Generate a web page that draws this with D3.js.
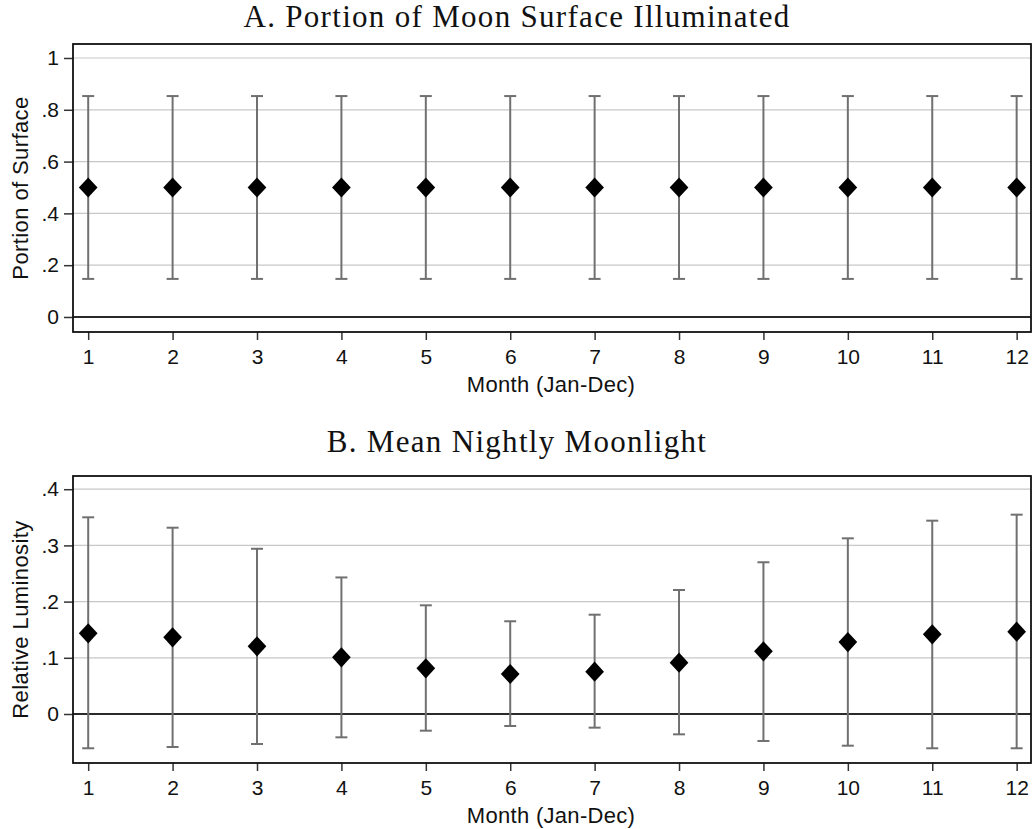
<!DOCTYPE html>
<html><head><meta charset="utf-8">
<script src="https://cdn.jsdelivr.net/npm/d3@7"></script>
<style>body{margin:0;background:#fff}</style>
</head><body><svg id="c" width="1035" height="829"></svg>
<script>
const months = [1,2,3,4,5,6,7,8,9,10,11,12];
const surfMean = [0.5,0.5,0.5,0.5,0.5,0.5,0.5,0.5,0.5,0.5,0.5,0.5];
const surfLo = [0.147,0.147,0.147,0.147,0.147,0.147,0.147,0.147,0.147,0.147,0.147,0.147];
const surfHi = [0.853,0.853,0.853,0.853,0.853,0.853,0.853,0.853,0.853,0.853,0.853,0.853];
const lumMean = [0.1435,0.1364,0.1204,0.1008,0.0813,0.0712,0.0753,0.0913,0.1115,0.128,0.1418,0.1465];
const lumLo = [-0.061,-0.0587,-0.0534,-0.0415,-0.0297,-0.0214,-0.0243,-0.0362,-0.048,-0.0564,-0.061,-0.061];
const lumHi = [0.350,0.3315,0.294,0.243,0.1934,0.165,0.1767,0.2206,0.270,0.3126,0.344,0.3547];
const surfTicks = [0,0.2,0.4,0.6,0.8,1];
const lumTicks = [0,0.1,0.2,0.3,0.4];
const fmt = v => v===0 ? "0" : (v===1 ? "1" : d3.format(".1f")(v).replace(/^0/,""));

const svg = d3.select("#c");
const sans = "Liberation Sans, Arial, sans-serif";
const serif = "Liberation Serif, DejaVu Serif, serif";

function panel(o){
  const x = d3.scaleLinear().domain([0.82,12.17]).range([73,1031]);
  const y = d3.scaleLinear().domain(o.ydom).range([o.bottom,o.top]);
  const g = svg.append("g");
  g.append("text").attr("x",517).attr("y",o.titleY).attr("text-anchor","middle")
    .attr("font-family",serif).attr("font-size",31).attr("letter-spacing",1.3)
    .attr("fill","#111").text(o.title);
  // grid
  g.selectAll(".grid").data(o.ticks.filter(t=>t!==0)).enter().append("line")
    .attr("x1",73).attr("x2",1031).attr("y1",d=>y(d)).attr("y2",d=>y(d))
    .attr("stroke","#c8c8c8").attr("stroke-width",1.2);
  // zero line
  g.append("line").attr("x1",73).attr("x2",1031).attr("y1",y(0)).attr("y2",y(0))
    .attr("stroke","#2a2a2a").attr("stroke-width",1.8);
  // axes
  const ya = d3.axisLeft(y).tickValues(o.ticks).tickFormat(fmt).tickSize(9).tickPadding(5);
  const yg = g.append("g").attr("transform","translate(73,0)").call(ya);
  const xa = d3.axisBottom(x).tickValues(months).tickFormat(d3.format("d")).tickSize(8).tickPadding(9);
  const xg = g.append("g").attr("transform",`translate(0,${o.bottom})`).call(xa);
  [yg,xg].forEach(a=>{
    a.select(".domain").remove();
    a.selectAll(".tick line").attr("stroke","#333").attr("stroke-width",1.5);
    a.selectAll(".tick text").attr("font-family",sans).attr("font-size",21).attr("fill","#111");
  });
  // frame
  g.append("rect").attr("x",73).attr("y",o.top).attr("width",1031-73).attr("height",o.bottom-o.top)
    .attr("fill","none").attr("stroke","#111").attr("stroke-width",1.8);
  // error bars
  const d = months.map((m,i)=>({m,mean:o.mean[i],lo:o.lo[i],hi:o.hi[i]}));
  const eb = g.selectAll(".eb").data(d).enter().append("g");
  eb.append("line").attr("x1",v=>x(v.m)).attr("x2",v=>x(v.m)).attr("y1",v=>y(v.lo)).attr("y2",v=>y(v.hi))
    .attr("stroke","#707070").attr("stroke-width",2);
  eb.append("line").attr("x1",v=>x(v.m)-6).attr("x2",v=>x(v.m)+6).attr("y1",v=>y(v.hi)).attr("y2",v=>y(v.hi))
    .attr("stroke","#707070").attr("stroke-width",2);
  eb.append("line").attr("x1",v=>x(v.m)-6).attr("x2",v=>x(v.m)+6).attr("y1",v=>y(v.lo)).attr("y2",v=>y(v.lo))
    .attr("stroke","#707070").attr("stroke-width",2);
  const sym = d3.symbol().type(d3.symbolSquare).size(175);
  eb.append("path").attr("d",sym).attr("transform",v=>`translate(${x(v.m)},${y(v.mean)}) scale(1,1.08) rotate(45)`)
    .attr("fill","#000");
  // labels
  g.append("text").attr("transform",`translate(28,${(o.top+o.bottom)/2}) rotate(-90)`)
    .attr("text-anchor","middle").attr("font-family",sans).attr("font-size",22).attr("letter-spacing",0.4)
    .attr("fill","#111").text(o.ylabel);
  g.append("text").attr("x",551).attr("y",o.bottom+60).attr("text-anchor","middle")
    .attr("font-family",sans).attr("font-size",22).attr("letter-spacing",0.3).attr("fill","#111").text("Month (Jan-Dec)");
}
panel({title:"A. Portion of Moon Surface Illuminated",titleY:27,top:44,bottom:332,ydom:[-0.058,1.054],
  ticks:surfTicks,mean:surfMean,lo:surfLo,hi:surfHi,ylabel:"Portion of Surface"});
panel({title:"B. Mean Nightly Moonlight",titleY:452,top:476,bottom:763,ydom:[-0.0872,0.4235],
  ticks:lumTicks,mean:lumMean,lo:lumLo,hi:lumHi,ylabel:"Relative Luminosity"});
</script></body></html>
